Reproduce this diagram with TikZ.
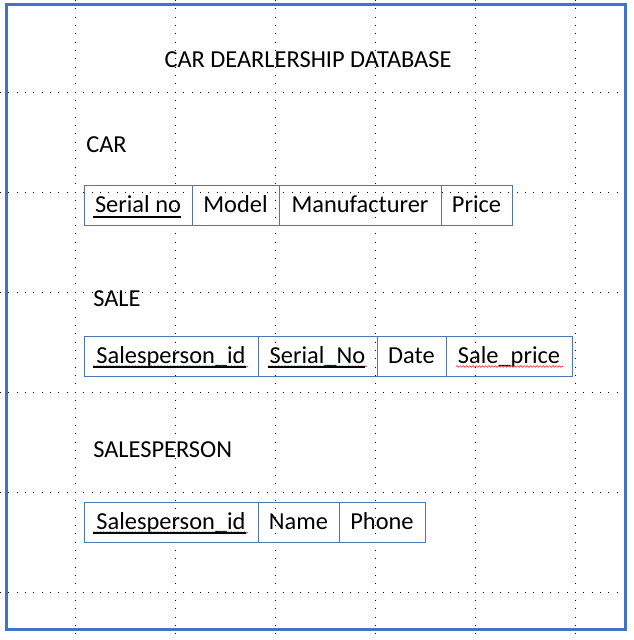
\documentclass[tikz,border=0pt]{standalone}
\usepackage{fontspec}
\setmainfont{Carlito}
\usetikzlibrary{positioning}
\usetikzlibrary{calc}
\usetikzlibrary{decorations.pathmorphing}

\definecolor{frameblue}{RGB}{68,114,196}
\definecolor{cellblue}{RGB}{79,119,175}
\definecolor{spellred}{RGB}{222,70,70}
\newcommand{\px}{0.75pt}

\tikzset{
  cell/.style={draw=cellblue, line width=0.75pt, minimum height=30pt, inner sep=0pt, outer sep=0pt, text height=11.6pt, text depth=0pt, anchor=west, font=\fontsize{18.3}{22}\selectfont},
  heading/.style={inner sep=0pt, text height=11.6pt, text depth=0pt, anchor=west, font=\fontsize{18.3}{22}\selectfont},
  keyline/.style={black, line width=1.3pt},
  spellline/.style={spellred, line width=0.5pt, decorate, decoration={snake, amplitude=0.6pt, segment length=2.4pt}},
  gridline/.style={black, line width=0.75pt, dash pattern=on 0.75pt off 5.5pt}
}

\begin{document}
\begin{tikzpicture}[x=0.75pt,y=0.75pt,yscale=-1,xscale=1]
\useasboundingbox (0,0) rectangle (633,640);

%Dotted grid
\foreach \gx in {75,175,...,575} \draw[gridline] (\gx,0) -- (\gx,640);
\foreach \gy in {92,192,...,592} \draw[gridline] (0,\gy) -- (633,\gy);

%Shape: Rectangle
\draw [frameblue, line width=2.25pt] (6,4.7) rectangle (625,629.5);

%Titles
\node[heading, anchor=center] (title) at (308,59.5) {CAR DEARLERSHIP DATABASE};
\node[heading] (cartitle) at (86,144.5) {CAR};
\node[heading] (saletitle) at (93,298.5) {SALE};
\node[heading] (persontitle) at (93,449.5) {SALESPERSON};

%Table CAR
\node[cell, minimum width=108*\px] (car1) at (84,205) {Serial no};
\node[cell, minimum width=87*\px, right=0pt of car1] (car2) {Model};
\node[cell, minimum width=162*\px, right=0pt of car2] (car3) {Manufacturer};
\node[cell, minimum width=71*\px, right=0pt of car3] (car4) {Price};

%Table SALE
\node[cell, minimum width=174*\px] (sale1) at (84,356) {Salesperson\_id};
\node[cell, minimum width=119*\px, right=0pt of sale1] (sale2) {Serial\_No};
\node[cell, minimum width=69*\px, right=0pt of sale2] (sale3) {Date};
\node[cell, minimum width=126*\px, right=0pt of sale3] (sale4) {Sale\_price};

%Table SALESPERSON
\node[cell, minimum width=174*\px] (person1) at (84,522) {Salesperson\_id};
\node[cell, minimum width=81*\px, right=0pt of person1] (person2) {Name};
\node[cell, minimum width=86*\px, right=0pt of person2] (person3) {Phone};

%Spelling marks
\draw[spellline] ($(sale1.south west)+(9,-9.5)$) -- ($(sale1.south east)+(-10,-9.5)$);
\draw[spellline] ($(sale2.south west)+(10,-9.5)$) -- ($(sale2.south east)+(-10,-9.5)$);
\draw[spellline] ($(sale4.south west)+(10,-9.5)$) -- ($(sale4.south east)+(-9,-9.5)$);
\draw[spellline] ($(person1.south west)+(9,-9.5)$) -- ($(person1.south east)+(-10,-9.5)$);

%Straight Lines (keys)
\draw[keyline] ($(car1.south west)+(9,-8)$) -- ($(car1.south east)+(-11,-8)$);
\draw[keyline] ($(sale1.south west)+(9,-9)$) -- ($(sale1.south east)+(-12,-9)$);
\draw[keyline] ($(sale2.south west)+(10,-9)$) -- ($(sale2.south east)+(-12,-9)$);
\draw[keyline] ($(person1.south west)+(9,-9)$) -- ($(person1.south east)+(-12,-9)$);

\end{tikzpicture}
\end{document}
